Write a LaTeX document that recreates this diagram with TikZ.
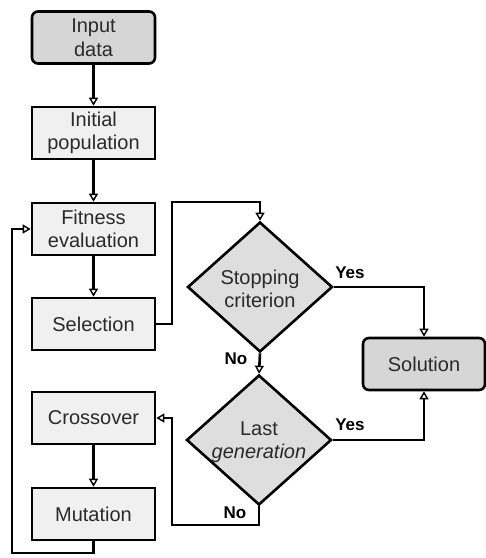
\documentclass[tikz,border=0pt]{standalone}
\usepackage{fontspec}
\setmainfont{Liberation Sans}
\usetikzlibrary{shapes.geometric,arrows.meta}
\definecolor{darkfill}{HTML}{D6D6D6}
\definecolor{diafill}{HTML}{DEDEDE}
\definecolor{lightfill}{HTML}{F0F0F0}
\definecolor{txt}{HTML}{2A2A2A}
\begin{document}
\begin{tikzpicture}[x=1pt,y=-1pt,
  font=\fontsize{20}{23.5}\selectfont,
  every node/.style={text=txt},
  procbox/.style={draw=black, line width=2.6pt, fill=lightfill, minimum width=123pt, minimum height=52pt, inner sep=0pt, align=center},
  termbox/.style={procbox, fill=darkfill, rounded corners=6pt},
  decbox/.style={draw=black, line width=2.6pt, fill=diafill, diamond, minimum width=145pt, minimum height=130pt, inner sep=0pt},
  conn/.style={draw=black, line width=2.6pt, -{Triangle[open, length=8pt, width=9pt, line width=1.4pt]}},
  lab/.style={font=\fontsize{17}{20}\selectfont\bfseries, text=black}
]
\useasboundingbox (0,0) rectangle (486,558);
\node[termbox] (input) at (93.5,37.5) {Input\\data};
\node[procbox] (init) at (93.5,133) {Initial\\population};
\node[procbox] (fit) at (93.5,229) {Fitness\\evaluation};
\node[procbox] (sel) at (93.5,324) {Selection};
\node[procbox] (cross) at (93.5,418) {Crossover};
\node[procbox] (mut) at (93.5,514) {Mutation};
\node[decbox] (stop) at (260,287) {};
\node[align=center] (stoptxt) at (260,289) {Stopping\\criterion};
\node[decbox] (last) at (259,440) {};
\node[align=center] (lasttxt) at (259,442) {Last\\\textit{generation}};
\node[termbox, minimum width=122pt, minimum height=52pt] (sol) at (424,364) {Solution};
\coordinate (c1) at (172,202);
\coordinate (c2) at (172,525);
\coordinate (c3) at (12,553);
\draw[conn] (input) -- (init);
\draw[conn] (init) -- (fit);
\draw[conn] (fit) -- (sel);
\draw[conn] (sel.east) -| (c1) -| (stop.north);
\draw[conn] (stop.east) -| (sol.north);
\draw[conn] (stop.south) -- (last.north);
\draw[conn] (last.east) -| (sol.south);
\draw[conn] (last.south) |- (c2) |- (cross.east);
\draw[conn] (cross) -- (mut);
\draw[conn] (mut.south) |- (c3) |- (fit.west);
\node[lab] (yes1) at (350,273) {Yes};
\node[lab] (no1) at (236,359) {No};
\node[lab] (yes2) at (350,425) {Yes};
\node[lab] (no2) at (235,513) {No};
\end{tikzpicture}
\end{document}
